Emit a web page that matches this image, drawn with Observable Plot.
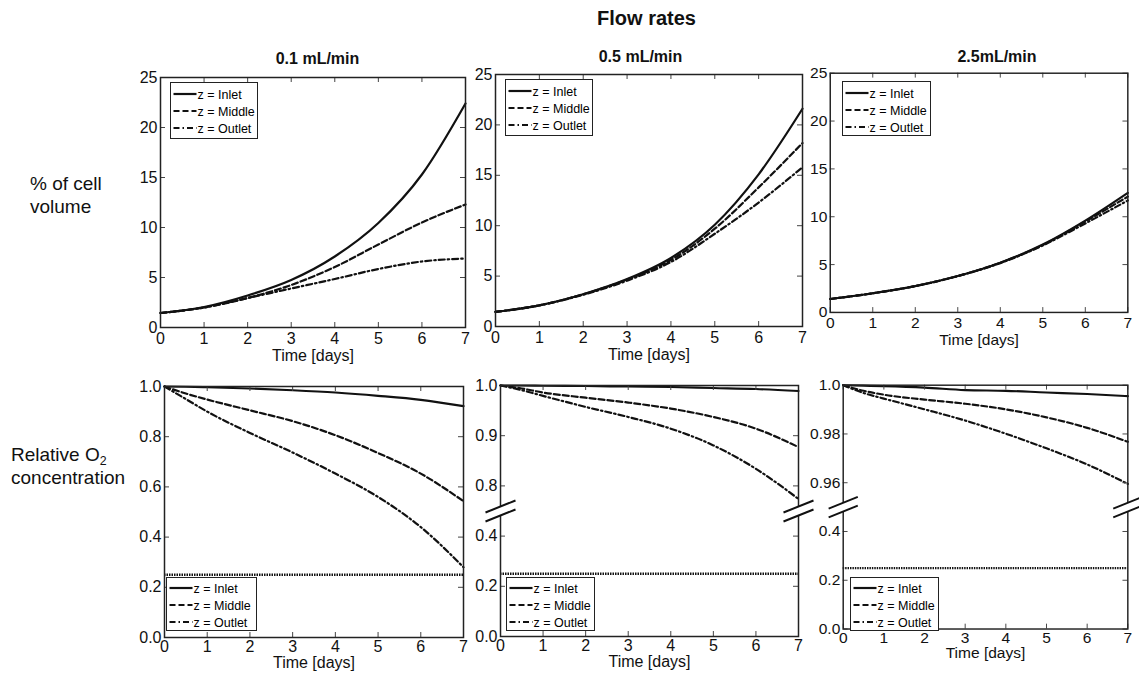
<!DOCTYPE html>
<html><head><meta charset="utf-8">
<script src="https://cdn.jsdelivr.net/npm/d3@7"></script>
<script src="https://cdn.jsdelivr.net/npm/@observablehq/plot@0.6"></script>
<style>
html,body{margin:0;padding:0;background:#fff;}
body{width:1139px;height:674px;overflow:hidden;position:relative;font-family:"Liberation Sans",Arial,Helvetica,sans-serif;color:#111;}
.abs{position:absolute;white-space:nowrap;line-height:1;}
.panel{position:absolute;}
.legend{position:absolute;background:#fff;border:1.5px solid #222;box-sizing:border-box;}
sub{font-size:65%;vertical-align:-0.35em;line-height:0;}
</style></head>
<body>
<div id="root"></div>
<script>
// ---------------- DATA ----------------
const seriesNames = ["z = Inlet", "z = Middle", "z = Outlet"];
const flowRates = ["0.1 mL/min", "0.5 mL/min", "2.5mL/min"];
const mainTitle = "Flow rates";
const rowLabelTop = ["% of cell", "volume"];
const xLabel = "Time [days]";

// top row: % of cell volume
const daysVol = [0, 1, 2, 3, 4, 5, 6, 7];
const vol01Inlet  = [1.45, 2.05, 3.2, 4.75, 7.1, 10.45, 15.3, 22.4];
const vol01Middle = [1.45, 2.0, 2.95, 4.25, 6.05, 8.3, 10.5, 12.3];
const vol01Outlet = [1.45, 2.0, 2.95, 3.9, 4.85, 5.85, 6.6, 6.9];
const vol05Inlet  = [1.45, 2.1, 3.2, 4.7, 6.8, 10.1, 15.1, 21.6];
const vol05Middle = [1.45, 2.1, 3.2, 4.65, 6.6, 9.7, 13.8, 18.2];
const vol05Outlet = [1.45, 2.1, 3.15, 4.55, 6.4, 9.2, 12.3, 15.8];
const vol25Inlet  = [1.4, 2.0, 2.75, 3.8, 5.2, 7.1, 9.6, 12.5];
const vol25Middle = [1.4, 2.0, 2.75, 3.8, 5.2, 7.05, 9.5, 12.1];
const vol25Outlet = [1.4, 2.0, 2.75, 3.8, 5.15, 7.0, 9.3, 11.7];

// bottom row: relative O2 concentration
const daysO2 = [0, 0.5, 1, 2, 3, 4, 5, 6, 7];
const o201Inlet  = [1.0, 0.999, 0.997, 0.992, 0.985, 0.976, 0.963, 0.947, 0.922];
const o201Middle = [1.0, 0.972, 0.948, 0.905, 0.862, 0.806, 0.735, 0.653, 0.543];
const o201Outlet = [1.0, 0.95, 0.9, 0.815, 0.737, 0.653, 0.56, 0.44, 0.28];
const o205Inlet  = [1.0, 1.0, 0.9995, 0.999, 0.998, 0.997, 0.995, 0.993, 0.989];
const o205Middle = [1.0, 0.994, 0.986, 0.9757, 0.966, 0.954, 0.9373, 0.914, 0.8773];
const o205Outlet = [1.0, 0.9907, 0.9793, 0.9573, 0.9373, 0.914, 0.8807, 0.834, 0.774];
const o225Inlet  = [1.0, 0.9998, 0.9996, 0.999, 0.998, 0.9977, 0.997, 0.9964, 0.9955];
const o225Middle = [1.0, 0.9977, 0.9961, 0.9941, 0.9924, 0.9901, 0.9868, 0.9825, 0.9768];
const o225Outlet = [1.0, 0.9968, 0.9945, 0.9901, 0.9855, 0.9801, 0.9741, 0.9675, 0.9595];
const hypoxiaLevel = 0.25;

// ticks
const xTicks = [0, 1, 2, 3, 4, 5, 6, 7];
const volTicks = [0, 5, 10, 15, 20, 25];
const volTickLabels = ["0", "5", "10", "15", "20", "25"];
const o2Ticks01 = [0, 0.2, 0.4, 0.6, 0.8, 1.0];
const o2Labels01 = ["0.0", "0.2", "0.4", "0.6", "0.8", "1.0"];
const o2Ticks05 = [0, 0.2, 0.4, 0.8, 0.9, 1.0];
const o2Labels05 = ["0.0", "0.2", "0.4", "0.8", "0.9", "1.0"];
const o2Ticks25 = [0, 0.2, 0.4, 0.96, 0.98, 1.0];
const o2Labels25 = ["0.0", "0.2", "0.4", "0.96", "0.98", "1.0"];
// broken axes: lower part ends at breakLow, upper part starts at breakHigh
const break05 = [0.5, 0.75];
const break25 = [0.5, 0.95];
const breakDays = [0, 7];

// ---------------- STYLE ----------------
const FONT = '"Liberation Sans", Arial, Helvetica, sans-serif';
const DASH = [null, "6,3", "6,3,1.5,3"];
const INK = "#111";

const root = document.getElementById("root");

function addText(html, {x, y, size, weight = "normal", center = false}) {
  const d = document.createElement("div");
  d.className = "abs";
  d.innerHTML = html;
  d.style.left = x + "px";
  d.style.top = (y - size / 2) + "px";
  d.style.fontSize = size + "px";
  d.style.fontWeight = weight;
  if (center) d.style.transform = "translateX(-50%)";
  root.appendChild(d);
}

function addLegend({left, top, width, height, rows}) {
  const box = document.createElement("div");
  box.className = "legend";
  Object.assign(box.style, {left: left + "px", top: top + "px", width: width + "px", height: height + "px"});
  const ns = "http://www.w3.org/2000/svg";
  const svg = document.createElementNS(ns, "svg");
  svg.setAttribute("width", width);
  svg.setAttribute("height", height);
  svg.style.position = "absolute"; svg.style.left = "-1.5px"; svg.style.top = "-1.5px";
  seriesNames.forEach((name, i) => {
    const y = rows[i];
    const ln = document.createElementNS(ns, "line");
    ln.setAttribute("x1", 3.5); ln.setAttribute("x2", 26.5);
    ln.setAttribute("y1", y); ln.setAttribute("y2", y);
    ln.setAttribute("stroke", INK); ln.setAttribute("stroke-width", 2.2);
    if (DASH[i]) ln.setAttribute("stroke-dasharray", DASH[i]);
    svg.appendChild(ln);
    const tx = document.createElementNS(ns, "text");
    tx.setAttribute("x", 27.5); tx.setAttribute("y", y + 4.6);
    tx.setAttribute("font-size", 12.5);
    tx.setAttribute("font-family", FONT);
    tx.setAttribute("fill", "#000");
    tx.textContent = name;
    svg.appendChild(tx);
  });
  box.appendChild(svg);
  root.appendChild(box);
}

const breakLines = {draw(ctx) {
  ctx.moveTo(-15, 1.5); ctx.lineTo(15, -10.5);
  ctx.moveTo(-15, 10.5); ctx.lineTo(15, -1.5);
}};
const breakGap = {draw(ctx) {
  ctx.moveTo(-15, 1.5); ctx.lineTo(15, -10.5); ctx.lineTo(15, -1.5); ctx.lineTo(-15, 10.5); ctx.closePath();
}};

function makePanel(cfg) {
  const ML = 45, MR = 12, MT = 10, MB = 48;
  const fw = cfg.R - cfg.L, fh = cfg.B - cfg.T;
  const width = fw + ML + MR, height = fh + MT + MB;
  const fmt = new Map(cfg.yTicks.map((t, i) => [t, cfg.yLabels[i]]));
  let yOpts;
  if (cfg.brk) {
    const mid = MT + fh / 2;
    yOpts = {type: "linear", domain: [0, cfg.brk[0], cfg.brk[1], 1], range: [MT + fh, mid, mid, MT]};
  } else {
    yOpts = {type: "linear", domain: cfg.yDomain};
  }
  const marks = [];
  if (cfg.hypoxia != null) {
    marks.push(Plot.ruleY([cfg.hypoxia], {y: d => d, stroke: INK, strokeWidth: 2.4, strokeDasharray: "1.5,1"}));
  }
  cfg.series.forEach((vals, i) => {
    const rows = cfg.t.map((t, j) => ({t, v: vals[j], s: seriesNames[i]}));
    marks.push(Plot.line(rows, {x: "t", y: "v", stroke: INK, strokeWidth: 2.2, strokeDasharray: DASH[i] || undefined, curve: "monotone-x"}));
  });
  marks.push(Plot.ruleX(xTicks, {x: d => d, insetTop: fh - 5, stroke: "#444", strokeWidth: 1}));
  marks.push(Plot.ruleX(xTicks, {x: d => d, insetBottom: fh - 5, stroke: "#444", strokeWidth: 1}));
  marks.push(Plot.ruleY(cfg.yTicks, {y: d => d, insetRight: fw - 5, stroke: "#444", strokeWidth: 1}));
  marks.push(Plot.ruleY(cfg.yTicks, {y: d => d, insetLeft: fw - 5, stroke: "#444", strokeWidth: 1}));
  marks.push(Plot.frame({stroke: "#222", strokeWidth: 1.5}));
  if (cfg.brk) {
    const bv = cfg.brk[0];
    marks.push(Plot.dot(breakDays, {x: d => d, y: () => bv, symbol: breakGap, fill: "white", stroke: "none"}));
    marks.push(Plot.dot(breakDays, {x: d => d, y: () => bv, symbol: breakLines, fill: "none", stroke: INK, strokeWidth: 2}));
  }
  marks.push(Plot.axisX({ticks: xTicks, tickSize: 0, tickPadding: cfg.tickPad, fontSize: 16, tickFormat: d => String(d),
    label: xLabel, labelAnchor: "center", labelOffset: cfg.labelOffset, labelArrow: "none", fill: INK}));
  marks.push(Plot.axisY({ticks: cfg.yTicks, tickSize: 0, tickPadding: 3, fontSize: 16, tickFormat: d => fmt.get(d), label: null, fill: INK}));

  const chart = Plot.plot({
    width, height,
    marginLeft: ML, marginRight: MR, marginTop: MT, marginBottom: MB,
    x: {type: "linear", domain: [0, 7]},
    y: yOpts,
    style: {fontFamily: FONT, fontSize: "16px", color: INK, background: "transparent", overflow: "visible"},
    marks
  });
  const wrap = document.createElement("div");
  wrap.className = "panel";
  wrap.style.left = (cfg.L - ML) + "px";
  wrap.style.top = (cfg.T - MT) + "px";
  wrap.appendChild(chart);
  root.appendChild(wrap);
  if (cfg.legend) addLegend(cfg.legend);
}

// ---------------- LAYOUT ----------------
const topRowLegendRows = [12, 29, 46];
const botRowLegendRows = [11, 28, 45];

makePanel({L: 160, R: 465, T: 77, B: 327, t: daysVol, series: [vol01Inlet, vol01Middle, vol01Outlet],
  yDomain: [0, 25], yTicks: volTicks, yLabels: volTickLabels, tickPad: 5, labelOffset: 33,
  legend: {left: 170, top: 82, width: 88, height: 57, rows: topRowLegendRows}});
makePanel({L: 495, R: 802, T: 74, B: 326, t: daysVol, series: [vol05Inlet, vol05Middle, vol05Outlet],
  yDomain: [0, 25], yTicks: volTicks, yLabels: volTickLabels, tickPad: 5, labelOffset: 33,
  legend: {left: 505, top: 79, width: 88, height: 57, rows: topRowLegendRows}});
makePanel({L: 831, R: 1137, T: 73, B: 319, t: daysVol, series: [vol25Inlet, vol25Middle, vol25Outlet],
  yDomain: [0, 25], yTicks: volTicks, yLabels: volTickLabels, tickPad: 5, labelOffset: 33,
  legend: {left: 842, top: 81, width: 89, height: 55, rows: topRowLegendRows}});

makePanel({L: 164, R: 463, T: 386, B: 637, t: daysO2, series: [o201Inlet, o201Middle, o201Outlet],
  yDomain: [0, 1], yTicks: o2Ticks01, yLabels: o2Labels01, tickPad: 3, labelOffset: 30, hypoxia: hypoxiaLevel,
  legend: {left: 166, top: 577, width: 91, height: 54, rows: botRowLegendRows}});
makePanel({L: 500, R: 798, T: 385, B: 636, t: daysO2, series: [o205Inlet, o205Middle, o205Outlet],
  brk: break05, yTicks: o2Ticks05, yLabels: o2Labels05, tickPad: 3, labelOffset: 30, hypoxia: hypoxiaLevel,
  legend: {left: 506, top: 577, width: 89, height: 54, rows: botRowLegendRows}});
makePanel({L: 844, R: 1137, T: 385, B: 636, t: daysO2, series: [o225Inlet, o225Middle, o225Outlet],
  brk: break25, yTicks: o2Ticks25, yLabels: o2Labels25, tickPad: 3, labelOffset: 30, hypoxia: hypoxiaLevel,
  legend: {left: 850, top: 577, width: 89, height: 54, rows: botRowLegendRows}});

// ---------------- TEXT ----------------
addText(mainTitle, {x: 646.5, y: 17.5, size: 20, weight: "bold", center: true});
addText(flowRates[0], {x: 317.5, y: 59, size: 16, weight: "bold", center: true});
addText(flowRates[1], {x: 640.5, y: 56.5, size: 16, weight: "bold", center: true});
addText(flowRates[2], {x: 997, y: 57, size: 16, weight: "bold", center: true});
addText(rowLabelTop[0], {x: 30, y: 183, size: 19});
addText(rowLabelTop[1], {x: 30, y: 206.5, size: 19});
addText("Relative O<sub>2</sub>", {x: 11, y: 454.5, size: 19});
addText("concentration", {x: 11, y: 477, size: 19});
</script>
</body></html>
